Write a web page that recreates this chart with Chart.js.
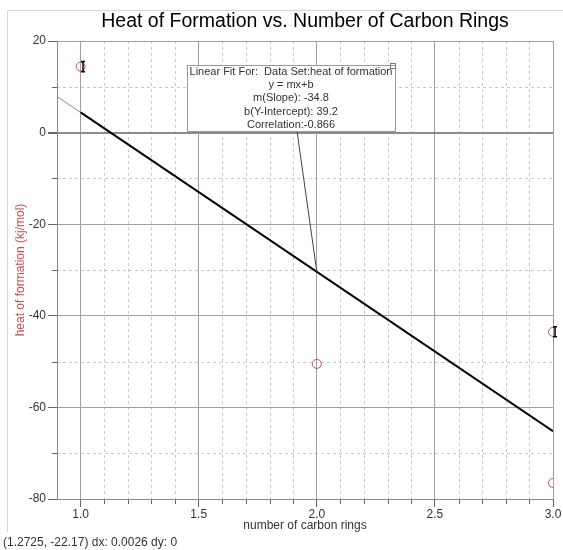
<!DOCTYPE html>
<html>
<head>
<meta charset="utf-8">
<script src="https://cdn.jsdelivr.net/npm/chart.js@4.4.1/dist/chart.umd.min.js"></script>
<style>
  body { margin: 0; background: #fff; }
  #wrap { width: 563px; height: 550px; }
</style>
</head>
<body>
<div id="wrap"><canvas id="myChart"></canvas></div>
<script>
// measured data
var rings = [1, 2, 3, 3];
var heat = [14.4, -50.5, -43.5, -76.5];
var heatErr = [1.1, 0, 1.1, 0];

// linear fit results
var slope = -34.8;
var intercept = 39.2;
var correlation = -0.866;

// axis ranges
var xMin = 0.9, xMax = 3.0, xStep = 0.1, xMajor = 0.5;
var yMin = -80, yMax = 20, yStep = 10, yMajor = 20;

var statusText = '(1.2725, -22.17) dx: 0.0026 dy: 0';

function fitAt(x) { return slope * x + intercept; }
function isMajor(v, m) { return Math.abs(v / m - Math.round(v / m)) < 1e-6; }

var xTickValues = [];
for (var i = Math.round(xMin / xStep); i <= Math.round(xMax / xStep); i++) xTickValues.push(i / 10);
var yTickValues = [];
for (var j = yMin; j <= yMax; j += yStep) yTickValues.push(j);

var points = rings.map(function (r, i) { return { x: r, y: heat[i] }; });
var fitMain = [1.0, xMax].map(function (x) { return { x: x, y: fitAt(x) }; });
var fitStub = [xMin, 1.0].map(function (x) { return { x: x, y: fitAt(x) }; });

// page frame, dashed minor grid and short minor ticks
var minorGrid = {
  id: 'minorGrid',
  beforeDraw: function (chart) {
    var ctx = chart.ctx, a = chart.chartArea, x = chart.scales.x, y = chart.scales.y;
    ctx.save();
    ctx.strokeStyle = '#d6d6d6';
    ctx.lineWidth = 1;
    ctx.beginPath();
    ctx.moveTo(7.5, 532); ctx.lineTo(7.5, 10.5); ctx.lineTo(563, 10.5);
    ctx.stroke();

    ctx.strokeStyle = '#c8c8c8';
    ctx.setLineDash([3, 3]);
    ctx.beginPath();
    xTickValues.forEach(function (v) {
      if (isMajor(v, xMajor) || v === xMin) return;
      var px = Math.round(x.getPixelForValue(v)) + 0.5;
      ctx.moveTo(px, a.top); ctx.lineTo(px, a.bottom);
    });
    yTickValues.forEach(function (v) {
      if (isMajor(v, yMajor)) return;
      var py = Math.round(y.getPixelForValue(v)) + 0.5;
      ctx.moveTo(a.left, py); ctx.lineTo(a.right, py);
    });
    ctx.stroke();

    ctx.setLineDash([]);
    ctx.strokeStyle = '#666';
    ctx.beginPath();
    xTickValues.forEach(function (v) {
      if (isMajor(v, xMajor) || v === xMin) return;
      var px = Math.round(x.getPixelForValue(v)) + 0.5;
      ctx.moveTo(px, a.bottom); ctx.lineTo(px, a.bottom + 5);
    });
    yTickValues.forEach(function (v) {
      if (isMajor(v, yMajor)) return;
      var py = Math.round(y.getPixelForValue(v)) + 0.5;
      ctx.moveTo(a.left - 5, py); ctx.lineTo(a.left, py);
    });
    ctx.stroke();
    ctx.restore();
  }
};

// error bars on the points that have them
var errorBars = {
  id: 'errorBars',
  afterDatasetsDraw: function (chart) {
    var ctx = chart.ctx, x = chart.scales.x, y = chart.scales.y;
    ctx.save();
    ctx.strokeStyle = '#000';
    ctx.lineWidth = 1.5;
    rings.forEach(function (r, i) {
      if (!heatErr[i]) return;
      var px = Math.round(x.getPixelForValue(r)) + 2;
      var top = y.getPixelForValue(heat[i] + heatErr[i]);
      var bot = y.getPixelForValue(heat[i] - heatErr[i]);
      ctx.beginPath();
      ctx.moveTo(px - 2, top); ctx.lineTo(px + 2, top);
      ctx.moveTo(px, top); ctx.lineTo(px, bot);
      ctx.moveTo(px - 2, bot); ctx.lineTo(px + 2, bot);
      ctx.stroke();
    });
    ctx.restore();
  }
};

// fit summary box with a leader to the fit line
var fitBox = {
  id: 'fitBox',
  afterDatasetsDraw: function (chart) {
    var ctx = chart.ctx, x = chart.scales.x, y = chart.scales.y;
    var left = 187, top = 65, w = 208, h = 66;
    var lines = [
      'Linear Fit For:  Data Set:heat of formation',
      'y = mx+b',
      'm(Slope): ' + slope,
      'b(Y-Intercept): ' + intercept,
      'Correlation:' + correlation
    ];
    ctx.save();
    ctx.strokeStyle = '#444';
    ctx.lineWidth = 1;
    ctx.beginPath();
    ctx.moveTo(297, top + h);
    ctx.lineTo(x.getPixelForValue(2), y.getPixelForValue(fitAt(2)));
    ctx.stroke();

    ctx.fillStyle = '#fff';
    ctx.fillRect(left, top, w, h);
    ctx.strokeStyle = '#999';
    ctx.strokeRect(left + 0.5, top + 0.5, w, h);
    ctx.strokeStyle = '#777';
    ctx.strokeRect(left + w - 4.5, top - 1.5, 5, 5);

    ctx.fillStyle = '#333';
    ctx.font = "11px 'Liberation Sans', Arial, sans-serif";
    ctx.textAlign = 'center';
    ctx.textBaseline = 'middle';
    lines.forEach(function (t, k) {
      ctx.fillText(t, left + w / 2, top + 7 + k * 13.2);
    });
    ctx.restore();
  }
};

Chart.defaults.font.family = "'Liberation Sans', Arial, sans-serif";
Chart.defaults.font.size = 12;
Chart.defaults.color = '#333';

var ctx = document.getElementById('myChart');
var myChart = new Chart(ctx, {
  type: 'scatter',
  data: {
    datasets: [{
      label: 'heat of formation',
      data: points,
      pointStyle: 'circle',
      pointRadius: 4.5,
      borderColor: '#d05050',
      backgroundColor: 'rgba(0,0,0,0)',
      borderWidth: 1,
      clip: 0
    }, {
      label: 'fit',
      data: fitMain,
      showLine: true,
      borderColor: '#000',
      borderWidth: 2,
      pointRadius: 0,
      clip: 0
    }, {
      label: 'fit outside',
      data: fitStub,
      showLine: true,
      borderColor: '#888',
      borderWidth: 1,
      pointRadius: 0,
      clip: 0
    }]
  },
  options: {
    responsive: true,
    maintainAspectRatio: false,
    animation: false,
    layout: { padding: { top: 8, left: 3, right: 10, bottom: 0.5 } },
    plugins: {
      legend: { display: false },
      tooltip: { enabled: false },
      title: {
        display: true,
        fullSize: false,
        text: 'Heat of Formation vs. Number of Carbon Rings',
        color: '#000',
        font: { size: 19.5, weight: 'normal' },
        padding: { top: 2, bottom: 7.6 }
      },
      subtitle: {
        display: true,
        position: 'bottom',
        align: 'start',
        text: statusText,
        color: '#333',
        font: { size: 12, weight: 'normal' },
        padding: { top: 0, bottom: 0 }
      }
    },
    scales: {
      x: {
        type: 'linear',
        min: xMin,
        max: xMax,
        afterBuildTicks: function (s) { s.ticks = xTickValues.map(function (v) { return { value: v }; }); },
        afterFit: function (s) { s.height = 36.1; },
        ticks: {
          autoSkip: false,
          maxRotation: 0,
          padding: 0,
          color: '#333',
          callback: function (v) { return isMajor(v, xMajor) ? v.toFixed(1) : ''; }
        },
        grid: {
          tickLength: 8,
          color: function (c) { return isMajor(c.tick.value, xMajor) ? '#a0a0a0' : 'rgba(0,0,0,0)'; },
          tickColor: function (c) { return isMajor(c.tick.value, xMajor) ? '#666' : 'rgba(0,0,0,0)'; }
        },
        border: { color: '#888' },
        title: {
          display: true,
          text: 'number of carbon rings',
          color: '#333',
          font: { size: 12 },
          padding: { top: 0, bottom: 2 }
        }
      },
      y: {
        type: 'linear',
        min: yMin,
        max: yMax,
        afterBuildTicks: function (s) { s.ticks = yTickValues.map(function (v) { return { value: v }; }); },
        afterFit: function (s) { s.width = 54; },
        ticks: {
          autoSkip: false,
          padding: 2,
          color: '#333',
          callback: function (v) { return isMajor(v, yMajor) ? String(v) : ''; }
        },
        grid: {
          tickLength: 9,
          color: function (c) {
            if (!isMajor(c.tick.value, yMajor)) return 'rgba(0,0,0,0)';
            return c.tick.value === 0 ? '#8c8c8c' : '#a0a0a0';
          },
          lineWidth: function (c) { return c.tick.value === 0 ? 2 : 1; },
          tickColor: function (c) { return isMajor(c.tick.value, yMajor) ? '#666' : 'rgba(0,0,0,0)'; }
        },
        border: { color: '#888' },
        title: {
          display: true,
          text: 'heat of formation (kj/mol)',
          color: '#cc4b4b',
          font: { size: 12 },
          padding: { top: 10, bottom: 0 }
        }
      }
    }
  },
  plugins: [minorGrid, errorBars, fitBox]
});
</script>
</body>
</html>
